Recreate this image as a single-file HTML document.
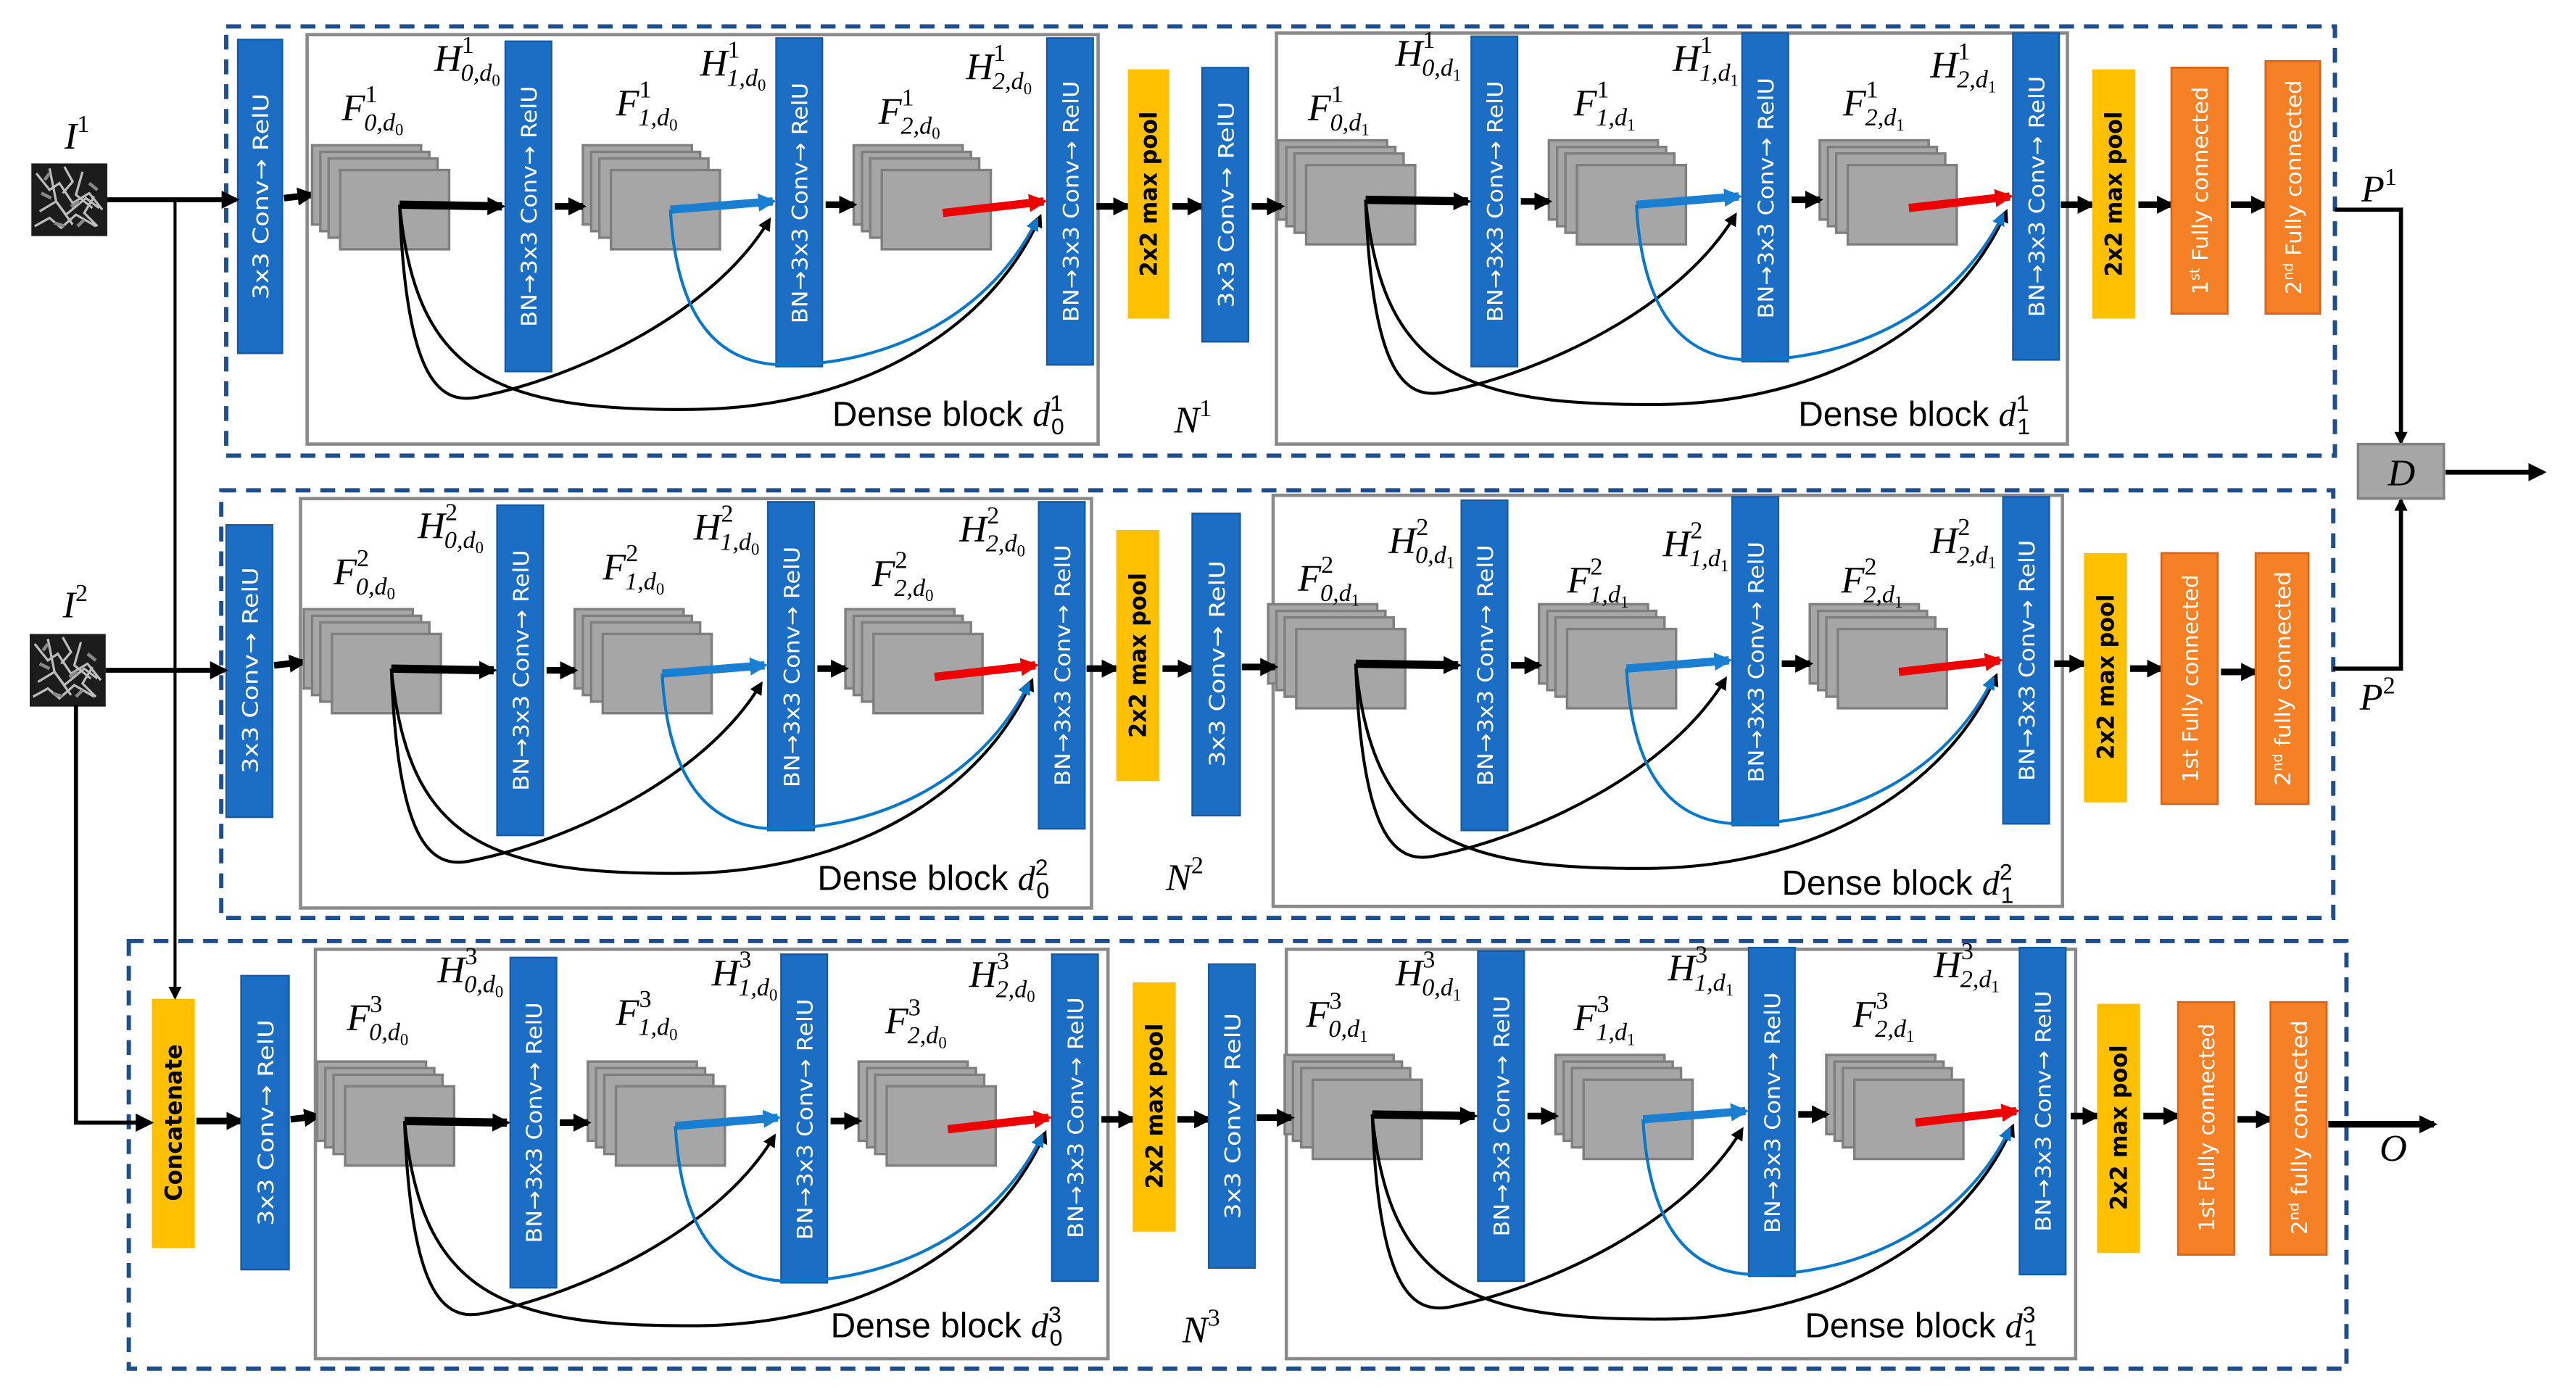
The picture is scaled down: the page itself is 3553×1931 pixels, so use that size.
<!DOCTYPE html>
<html><head><meta charset="utf-8"><style>
html,body{margin:0;padding:0;background:#fff}
svg{display:block}
.bar{fill:#1B6EC4;stroke:#1659a3;stroke-width:1}
.yel{fill:#FFC000}
.org{fill:#F58025;stroke:#D9651A;stroke-width:1.2}
.bt{font-family:"DejaVu Sans","Liberation Sans",sans-serif;fill:#fff;font-size:13px;text-anchor:middle}
.kt{font-family:"DejaVu Sans","Liberation Sans",sans-serif;fill:#000;font-weight:bold;font-size:14px;text-anchor:middle}
.stk rect{fill:#A6A6A6;stroke:#7f7f7f;stroke-width:1.5}
.lab text{font-family:"Liberation Serif",serif;font-style:italic;font-size:23px;fill:#000}
.p{font-size:15px;font-style:normal}
.q{font-size:15px}
.k{font-size:10px;font-style:normal}
.lab text.db{font-family:"Liberation Sans Narrow","Liberation Sans",sans-serif;font-style:normal;font-size:21px}
.it{font-family:"Liberation Serif",serif;font-style:italic}
.m{font-family:"Liberation Serif",serif;font-style:italic;font-size:23px;fill:#000}
.fl{stroke:#000;stroke-width:4;marker-end:url(#a)}
.cv{fill:none;stroke:#000;stroke-width:1.8}
.dash{fill:none;stroke:#1F4E8C;stroke-width:2.6;stroke-dasharray:9 6}
.db2{fill:none;stroke:#8a8a8a;stroke-width:2}
</style></head><body>
<svg width="3553" height="1931" viewBox="0 0 1560 848" preserveAspectRatio="none" xmlns="http://www.w3.org/2000/svg" xmlns:xlink="http://www.w3.org/1999/xlink">
<defs>
<marker id="a" viewBox="0 0 10 10" refX="8" refY="5" markerWidth="11" markerHeight="12" markerUnits="userSpaceOnUse" orient="auto"><path d="M0,0 L10,5 L0,10 z" fill="#000"/></marker>
<marker id="ab" viewBox="0 0 10 10" refX="8" refY="5" markerWidth="11" markerHeight="12" markerUnits="userSpaceOnUse" orient="auto"><path d="M0,0 L10,5 L0,10 z" fill="#1a7fd0"/></marker>
<marker id="ar" viewBox="0 0 10 10" refX="8" refY="5" markerWidth="11" markerHeight="12" markerUnits="userSpaceOnUse" orient="auto"><path d="M0,0 L10,5 L0,10 z" fill="#e00"/></marker>
<marker id="ac" viewBox="0 0 10 10" refX="8" refY="5" markerWidth="8" markerHeight="9" markerUnits="userSpaceOnUse" orient="auto"><path d="M0,0 L10,5 L0,10 z" fill="#000"/></marker>
<marker id="acb" viewBox="0 0 10 10" refX="8" refY="5" markerWidth="8" markerHeight="9" markerUnits="userSpaceOnUse" orient="auto"><path d="M0,0 L10,5 L0,10 z" fill="#0a78c8"/></marker>
<g id="stk" class="stk"><rect x="0" y="0" width="66" height="48"/><rect x="5" y="4" width="66" height="48"/><rect x="10" y="8" width="66" height="48"/><rect x="17" y="15" width="66" height="48"/></g>
<g id="blk">
 <use xlink:href="#stk" x="189" y="88"/>
 <use xlink:href="#stk" x="353" y="88"/>
 <use xlink:href="#stk" x="517" y="88"/>
 <rect class="bar" x="306" y="25" width="28" height="200"/>
 <text class="bt" transform="translate(320,125) rotate(-90)" y="5" textLength="146" lengthAdjust="spacingAndGlyphs">BN→3x3 Conv→ RelU</text>
 <rect class="bar" x="470" y="23" width="28" height="199"/>
 <text class="bt" transform="translate(484,123) rotate(-90)" y="5" textLength="146" lengthAdjust="spacingAndGlyphs">BN→3x3 Conv→ RelU</text>
 <rect class="bar" x="634" y="23" width="28" height="198"/>
 <text class="bt" transform="translate(648,122) rotate(-90)" y="5" textLength="146" lengthAdjust="spacingAndGlyphs">BN→3x3 Conv→ RelU</text>
 <line class="fl" x1="336" y1="125" x2="353" y2="125"/>
 <line class="fl" x1="500" y1="124" x2="517" y2="124"/>
 <line x1="242" y1="124" x2="304" y2="125" stroke="#000" stroke-width="5" marker-end="url(#a)"/>
 <line x1="406" y1="127" x2="468" y2="122" stroke="#1a7fd0" stroke-width="5" marker-end="url(#ab)"/>
 <line x1="571" y1="129" x2="632" y2="122" stroke="#e00" stroke-width="5" marker-end="url(#ar)"/>
 <path class="cv" d="M242,124 C246,235 268,246 292,240 C350,228 432,190 466,133" marker-end="url(#ac)"/>
 <path class="cv" d="M242,124 C252,228 300,249 420,248 C520,247 600,200 630,131" marker-end="url(#ac)"/>
 <path d="M406,127 C410,200 440,222 478,221 C540,220 600,190 628,133" fill="none" stroke="#0a78c8" stroke-width="1.8" marker-end="url(#acb)"/>
</g>
<g id="img">
 <rect x="0" y="0" width="46" height="44" fill="#1c1c1c"/>
 <path d="M3,6 l8,10 l6,-4 l8,12 l10,-6 l8,10 M5,29 l10,-6 l6,8 l12,-10 l8,6 M11,3 l4,20 l10,14 M31,5 l-4,14 l10,8 M2,38 l9,-5 l7,6 l9,-8 l12,7 M20,2 l5,9 l-6,7 M38,20 l-6,10 l8,8" fill="none" stroke="#bdbdbd" stroke-width="1.4"/>
 <path d="M6,18 l6,3 M24,26 l5,-3 M14,36 l6,2 M35,12 l5,4 M8,10 l3,-4 M28,38 l4,-4" stroke="#888" stroke-width="2"/>
</g>
</defs>

<!-- ===== Row 1 ===== -->
<rect class="dash" x="137" y="16" width="1277" height="260"/>
<rect class="db2" x="186" y="21" width="479" height="248"/>
<rect class="db2" x="773" y="20" width="479" height="249"/>
<rect class="bar" x="144" y="24" width="27" height="190"/>
<text class="bt" transform="translate(157.5,119) rotate(-90)" y="5" font-size="14" textLength="125" lengthAdjust="spacingAndGlyphs">3x3 Conv→ RelU</text>
<line class="fl" x1="172" y1="120" x2="189" y2="118"/>
<use xlink:href="#blk"/>
<use xlink:href="#blk" transform="translate(585,-3)"/>
<line class="fl" x1="664" y1="125" x2="683" y2="125"/>
<rect class="yel" x="683" y="42" width="25" height="151"/>
<text class="kt" transform="translate(695.5,117.5) rotate(-90)" y="5" textLength="100" lengthAdjust="spacingAndGlyphs">2x2 max pool</text>
<line class="fl" x1="710" y1="125" x2="728" y2="125"/>
<rect class="bar" x="728" y="41" width="28" height="166"/>
<text class="bt" transform="translate(742,124) rotate(-90)" y="5" font-size="14" textLength="125" lengthAdjust="spacingAndGlyphs">3x3 Conv→ RelU</text>
<line class="fl" x1="758" y1="125" x2="776" y2="125"/>
<line class="fl" x1="1248" y1="124" x2="1267" y2="124"/>
<rect class="yel" x="1267" y="42" width="26" height="151"/>
<text class="kt" transform="translate(1280,117.5) rotate(-90)" y="5" textLength="100" lengthAdjust="spacingAndGlyphs">2x2 max pool</text>
<line class="fl" x1="1295" y1="124" x2="1315" y2="124"/>
<rect class="org" x="1315" y="41" width="34" height="149"/>
<text class="bt" transform="translate(1332,115.5) rotate(-90)" y="5" textLength="126" lengthAdjust="spacingAndGlyphs">1<tspan font-size="8" dy="-5">st</tspan><tspan dy="5"> Fully connected</tspan></text>
<line class="fl" x1="1351" y1="124" x2="1372" y2="124"/>
<rect class="org" x="1372" y="37" width="33" height="153"/>
<text class="bt" transform="translate(1388.5,113.5) rotate(-90)" y="5" textLength="130" lengthAdjust="spacingAndGlyphs">2<tspan font-size="8" dy="-5">nd</tspan><tspan dy="5"> Fully connected</tspan></text>

<g class="lab">
<text x="207" y="73">F<tspan class="p" dy="-11">1</tspan><tspan class="q" dx="-8" dy="17">0,d</tspan><tspan class="k" dy="3">0</tspan></text>
<text x="263" y="43">H<tspan class="p" dy="-11">1</tspan><tspan class="q" dx="-8" dy="17">0,d</tspan><tspan class="k" dy="3">0</tspan></text>
<text x="373" y="70">F<tspan class="p" dy="-11">1</tspan><tspan class="q" dx="-8" dy="17">1,d</tspan><tspan class="k" dy="3">0</tspan></text>
<text x="424" y="46">H<tspan class="p" dy="-11">1</tspan><tspan class="q" dx="-8" dy="17">1,d</tspan><tspan class="k" dy="3">0</tspan></text>
<text x="532" y="75">F<tspan class="p" dy="-11">1</tspan><tspan class="q" dx="-8" dy="17">2,d</tspan><tspan class="k" dy="3">0</tspan></text>
<text x="585" y="48">H<tspan class="p" dy="-11">1</tspan><tspan class="q" dx="-8" dy="17">2,d</tspan><tspan class="k" dy="3">0</tspan></text>
<text class="db" x="504" y="258">Dense block <tspan class="it">d</tspan><tspan font-size="14" dy="-9">1</tspan><tspan font-size="14" dx="-7" dy="14">0</tspan></text>
</g>
<g class="lab" transform="translate(585,-3)">
<text x="207" y="76">F<tspan class="p" dy="-11">1</tspan><tspan class="q" dx="-8" dy="17">0,d</tspan><tspan class="k" dy="3">1</tspan></text>
<text x="260" y="43">H<tspan class="p" dy="-11">1</tspan><tspan class="q" dx="-8" dy="17">0,d</tspan><tspan class="k" dy="3">1</tspan></text>
<text x="368" y="73">F<tspan class="p" dy="-11">1</tspan><tspan class="q" dx="-8" dy="17">1,d</tspan><tspan class="k" dy="3">1</tspan></text>
<text x="428" y="46">H<tspan class="p" dy="-11">1</tspan><tspan class="q" dx="-8" dy="17">1,d</tspan><tspan class="k" dy="3">1</tspan></text>
<text x="531" y="73">F<tspan class="p" dy="-11">1</tspan><tspan class="q" dx="-8" dy="17">2,d</tspan><tspan class="k" dy="3">1</tspan></text>
<text x="584" y="50">H<tspan class="p" dy="-11">1</tspan><tspan class="q" dx="-8" dy="17">2,d</tspan><tspan class="k" dy="3">1</tspan></text>
<text class="db" x="504" y="261">Dense block <tspan class="it">d</tspan><tspan font-size="14" dy="-9">1</tspan><tspan font-size="14" dx="-7" dy="14">1</tspan></text>
</g>
<text class="m" x="711" y="262">N<tspan class="p" dy="-10">1</tspan></text>

<!-- ===== Row 2 ===== -->
<rect class="dash" x="134" y="297" width="1279" height="259"/>
<rect class="db2" x="182" y="302" width="479" height="248"/>
<rect class="db2" x="771" y="300" width="478" height="249"/>
<rect class="bar" x="137" y="318" width="28" height="177"/>
<text class="bt" transform="translate(151,406) rotate(-90)" y="5" font-size="14" textLength="125" lengthAdjust="spacingAndGlyphs">3x3 Conv→ RelU</text>
<line class="fl" x1="166" y1="403" x2="184" y2="401"/>
<use xlink:href="#blk" transform="translate(-5,281)"/>
<use xlink:href="#blk" transform="translate(579,278)"/>
<line class="fl" x1="658" y1="405" x2="676" y2="405"/>
<rect class="yel" x="676" y="321" width="26" height="152"/>
<text class="kt" transform="translate(689,397) rotate(-90)" y="5" textLength="100" lengthAdjust="spacingAndGlyphs">2x2 max pool</text>
<line class="fl" x1="704" y1="405" x2="722" y2="405"/>
<rect class="bar" x="722" y="311" width="29" height="183"/>
<text class="bt" transform="translate(736.5,402) rotate(-90)" y="5" font-size="14" textLength="125" lengthAdjust="spacingAndGlyphs">3x3 Conv→ RelU</text>
<line class="fl" x1="752" y1="404" x2="772" y2="404"/>
<line class="fl" x1="1244" y1="402" x2="1262" y2="402"/>
<rect class="yel" x="1262" y="335" width="26" height="151"/>
<text class="kt" transform="translate(1275,410) rotate(-90)" y="5" textLength="100" lengthAdjust="spacingAndGlyphs">2x2 max pool</text>
<line class="fl" x1="1290" y1="405" x2="1309" y2="405"/>
<rect class="org" x="1309" y="335" width="34" height="152"/>
<text class="bt" transform="translate(1326,411) rotate(-90)" y="5" textLength="126" lengthAdjust="spacingAndGlyphs">1st Fully connected</text>
<line class="fl" x1="1345" y1="407" x2="1366" y2="407"/>
<rect class="org" x="1366" y="335" width="32" height="152"/>
<text class="bt" transform="translate(1382,411) rotate(-90)" y="5" textLength="130" lengthAdjust="spacingAndGlyphs">2<tspan font-size="8" dy="-5">nd</tspan><tspan dy="5"> fully connected</tspan></text>

<g class="lab" transform="translate(-5,281)">
<text x="207" y="73">F<tspan class="p" dy="-11">2</tspan><tspan class="q" dx="-8" dy="17">0,d</tspan><tspan class="k" dy="3">0</tspan></text>
<text x="258" y="45">H<tspan class="p" dy="-11">2</tspan><tspan class="q" dx="-8" dy="17">0,d</tspan><tspan class="k" dy="3">0</tspan></text>
<text x="370" y="70">F<tspan class="p" dy="-11">2</tspan><tspan class="q" dx="-8" dy="17">1,d</tspan><tspan class="k" dy="3">0</tspan></text>
<text x="425" y="46">H<tspan class="p" dy="-11">2</tspan><tspan class="q" dx="-8" dy="17">1,d</tspan><tspan class="k" dy="3">0</tspan></text>
<text x="533" y="74">F<tspan class="p" dy="-11">2</tspan><tspan class="q" dx="-8" dy="17">2,d</tspan><tspan class="k" dy="3">0</tspan></text>
<text x="586" y="47">H<tspan class="p" dy="-11">2</tspan><tspan class="q" dx="-8" dy="17">2,d</tspan><tspan class="k" dy="3">0</tspan></text>
<text class="db" x="500" y="258">Dense block <tspan class="it">d</tspan><tspan font-size="14" dy="-9">2</tspan><tspan font-size="14" dx="-7" dy="14">0</tspan></text>
</g>
<g class="lab" transform="translate(579,278)">
<text x="207" y="80">F<tspan class="p" dy="-11">2</tspan><tspan class="q" dx="-8" dy="17">0,d</tspan><tspan class="k" dy="3">1</tspan></text>
<text x="262" y="57">H<tspan class="p" dy="-11">2</tspan><tspan class="q" dx="-8" dy="17">0,d</tspan><tspan class="k" dy="3">1</tspan></text>
<text x="370" y="81">F<tspan class="p" dy="-11">2</tspan><tspan class="q" dx="-8" dy="17">1,d</tspan><tspan class="k" dy="3">1</tspan></text>
<text x="428" y="59">H<tspan class="p" dy="-11">2</tspan><tspan class="q" dx="-8" dy="17">1,d</tspan><tspan class="k" dy="3">1</tspan></text>
<text x="536" y="81">F<tspan class="p" dy="-11">2</tspan><tspan class="q" dx="-8" dy="17">2,d</tspan><tspan class="k" dy="3">1</tspan></text>
<text x="590" y="57">H<tspan class="p" dy="-11">2</tspan><tspan class="q" dx="-8" dy="17">2,d</tspan><tspan class="k" dy="3">1</tspan></text>
<text class="db" x="500" y="264">Dense block <tspan class="it">d</tspan><tspan font-size="14" dy="-9">2</tspan><tspan font-size="14" dx="-7" dy="14">1</tspan></text>
</g>
<text class="m" x="706" y="539">N<tspan class="p" dy="-10">2</tspan></text>

<!-- ===== Row 3 ===== -->
<rect class="dash" x="78" y="570" width="1343" height="259"/>
<rect class="db2" x="191" y="575" width="480" height="248"/>
<rect class="db2" x="779" y="575" width="478" height="248"/>
<rect class="yel" x="92" y="605" width="26" height="151"/>
<text class="kt" transform="translate(105,680) rotate(-90)" y="5" font-size="15" textLength="95" lengthAdjust="spacingAndGlyphs">Concatenate</text>
<line class="fl" x1="119" y1="679" x2="146" y2="679"/>
<rect class="bar" x="146" y="591" width="29" height="178"/>
<text class="bt" transform="translate(160.5,680) rotate(-90)" y="5" font-size="14" textLength="125" lengthAdjust="spacingAndGlyphs">3x3 Conv→ RelU</text>
<line class="fl" x1="176" y1="678" x2="193" y2="676"/>
<use xlink:href="#blk" transform="translate(3,555)"/>
<use xlink:href="#blk" transform="translate(589,551)"/>
<line class="fl" x1="667" y1="678" x2="686" y2="678"/>
<rect class="yel" x="686" y="595" width="26" height="151"/>
<text class="kt" transform="translate(699,670) rotate(-90)" y="5" textLength="100" lengthAdjust="spacingAndGlyphs">2x2 max pool</text>
<line class="fl" x1="713" y1="678" x2="732" y2="678"/>
<rect class="bar" x="732" y="584" width="28" height="184"/>
<text class="bt" transform="translate(746,676) rotate(-90)" y="5" font-size="14" textLength="125" lengthAdjust="spacingAndGlyphs">3x3 Conv→ RelU</text>
<line class="fl" x1="761" y1="677" x2="782" y2="677"/>
<line class="fl" x1="1254" y1="676" x2="1270" y2="676"/>
<rect class="yel" x="1270" y="608" width="26" height="151"/>
<text class="kt" transform="translate(1283,683) rotate(-90)" y="5" textLength="100" lengthAdjust="spacingAndGlyphs">2x2 max pool</text>
<line class="fl" x1="1298" y1="676" x2="1319" y2="676"/>
<rect class="org" x="1319" y="607" width="34" height="153"/>
<text class="bt" transform="translate(1336,683) rotate(-90)" y="5" textLength="126" lengthAdjust="spacingAndGlyphs">1st Fully connected</text>
<line class="fl" x1="1355" y1="678" x2="1375" y2="678"/>
<rect class="org" x="1375" y="607" width="34" height="153"/>
<text class="bt" transform="translate(1392,683) rotate(-90)" y="5" textLength="130" lengthAdjust="spacingAndGlyphs">2<tspan font-size="8" dy="-5">nd</tspan><tspan dy="5"> fully connected</tspan></text>
<line class="fl" x1="1410" y1="681" x2="1474" y2="681"/>
<text class="m" x="1441" y="703">O</text>

<g class="lab" transform="translate(3,555)">
<text x="207" y="69">F<tspan class="p" dy="-11">3</tspan><tspan class="q" dx="-8" dy="17">0,d</tspan><tspan class="k" dy="3">0</tspan></text>
<text x="262" y="40">H<tspan class="p" dy="-11">3</tspan><tspan class="q" dx="-8" dy="17">0,d</tspan><tspan class="k" dy="3">0</tspan></text>
<text x="370" y="66">F<tspan class="p" dy="-11">3</tspan><tspan class="q" dx="-8" dy="17">1,d</tspan><tspan class="k" dy="3">0</tspan></text>
<text x="428" y="42">H<tspan class="p" dy="-11">3</tspan><tspan class="q" dx="-8" dy="17">1,d</tspan><tspan class="k" dy="3">0</tspan></text>
<text x="533" y="71">F<tspan class="p" dy="-11">3</tspan><tspan class="q" dx="-8" dy="17">2,d</tspan><tspan class="k" dy="3">0</tspan></text>
<text x="584" y="43">H<tspan class="p" dy="-11">3</tspan><tspan class="q" dx="-8" dy="17">2,d</tspan><tspan class="k" dy="3">0</tspan></text>
<text class="db" x="500" y="255">Dense block <tspan class="it">d</tspan><tspan font-size="14" dy="-9">3</tspan><tspan font-size="14" dx="-7" dy="14">0</tspan></text>
</g>
<g class="lab" transform="translate(589,551)">
<text x="202" y="71">F<tspan class="p" dy="-11">3</tspan><tspan class="q" dx="-8" dy="17">0,d</tspan><tspan class="k" dy="3">1</tspan></text>
<text x="256" y="46">H<tspan class="p" dy="-11">3</tspan><tspan class="q" dx="-8" dy="17">0,d</tspan><tspan class="k" dy="3">1</tspan></text>
<text x="364" y="73">F<tspan class="p" dy="-11">3</tspan><tspan class="q" dx="-8" dy="17">1,d</tspan><tspan class="k" dy="3">1</tspan></text>
<text x="421" y="43">H<tspan class="p" dy="-11">3</tspan><tspan class="q" dx="-8" dy="17">1,d</tspan><tspan class="k" dy="3">1</tspan></text>
<text x="533" y="71">F<tspan class="p" dy="-11">3</tspan><tspan class="q" dx="-8" dy="17">2,d</tspan><tspan class="k" dy="3">1</tspan></text>
<text x="582" y="41">H<tspan class="p" dy="-11">3</tspan><tspan class="q" dx="-8" dy="17">2,d</tspan><tspan class="k" dy="3">1</tspan></text>
<text class="db" x="504" y="259">Dense block <tspan class="it">d</tspan><tspan font-size="14" dy="-9">3</tspan><tspan font-size="14" dx="-7" dy="14">1</tspan></text>
</g>
<text class="m" x="716" y="813">N<tspan class="p" dy="-10">3</tspan></text>

<!-- ===== Inputs ===== -->
<use xlink:href="#img" x="19" y="99"/>
<use xlink:href="#img" x="18" y="384"/>
<text class="m" x="39" y="90">I<tspan class="p" dy="-10">1</tspan></text>
<text class="m" x="38" y="374">I<tspan class="p" dy="-10">2</tspan></text>

<line x1="65" y1="121" x2="143" y2="121" stroke="#000" stroke-width="3" marker-end="url(#a)"/>
<line x1="106" y1="121" x2="106" y2="604" stroke="#000" stroke-width="1.8" marker-end="url(#ac)"/>
<line x1="64" y1="406" x2="136" y2="406" stroke="#000" stroke-width="3" marker-end="url(#a)"/>
<polyline points="46,427 46,680 91,680" fill="none" stroke="#000" stroke-width="2.5" marker-end="url(#a)"/>

<!-- ===== D merge ===== -->
<polyline points="1414,127 1454,127 1454,268" fill="none" stroke="#000" stroke-width="2.5" marker-end="url(#ac)"/>
<polyline points="1413,405 1454,405 1454,303" fill="none" stroke="#000" stroke-width="2.5" marker-end="url(#ac)"/>
<text class="m" x="1430" y="122">P<tspan class="p" dy="-10">1</tspan></text>
<text class="m" x="1429" y="430">P<tspan class="p" dy="-10">2</tspan></text>
<rect x="1428" y="269" width="52" height="33" fill="#A6A6A6" stroke="#808080" stroke-width="1.5"/>
<text class="m" x="1446" y="294" font-size="21">D</text>
<line x1="1481" y1="286" x2="1540" y2="286" stroke="#000" stroke-width="3" marker-end="url(#a)"/>
</svg>
</body></html>
